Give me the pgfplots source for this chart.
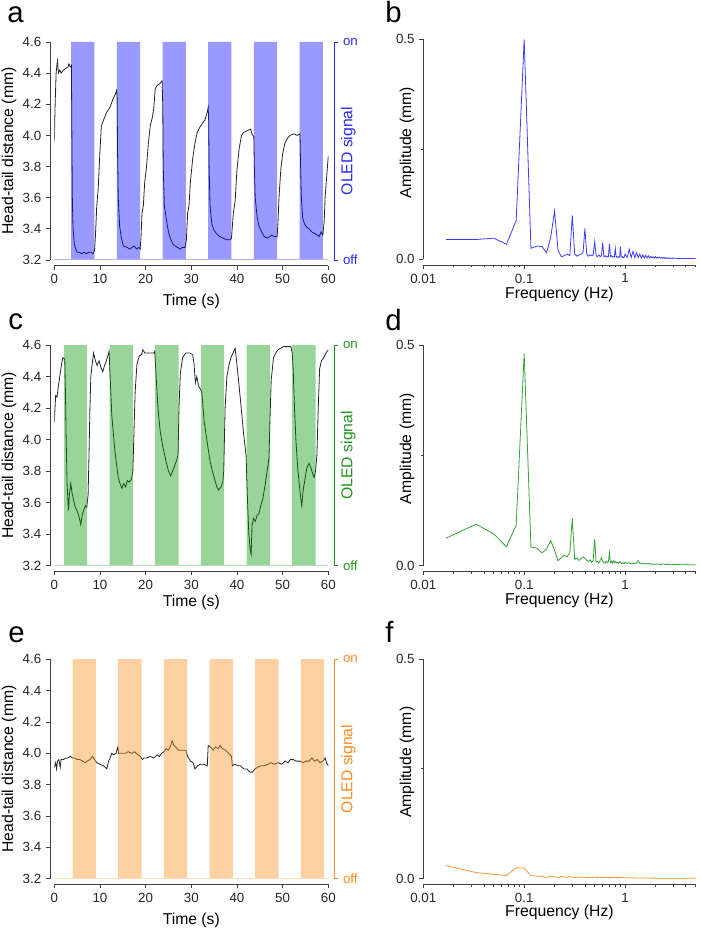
\documentclass[border=0pt]{standalone}
\usepackage{pgfplots}
\pgfplotsset{compat=1.18}
\usepackage{fontspec}
\setmainfont{Liberation Sans}

\definecolor{bandB}{RGB}{0,0,255}
\definecolor{axB}{RGB}{40,40,255}
\definecolor{lineB}{RGB}{60,60,255}
\definecolor{bandG}{RGB}{0,150,0}
\definecolor{axG}{RGB}{30,150,30}
\definecolor{lineG}{RGB}{50,165,50}
\definecolor{bandO}{RGB}{255,140,20}
\definecolor{axO}{RGB}{255,140,30}
\definecolor{lineO}{RGB}{255,150,50}

\tikzset{letter/.style={font=\fontsize{22}{25}\selectfont, anchor=base west, inner sep=0pt}}

\pgfplotsset{
 base/.style={scale only axis, /pgf/number format/assume math mode=true,
   tick align=outside, major tick length=3pt, minor tick length=1.7pt,
   ticklabel style={font=\fontsize{10}{12}\selectfont, text=black!85},
   label style={font=\fontsize{11.8}{14}\selectfont},
   axis line style={black!75, line width=0.6pt},
   every tick/.style={black!75, line width=0.6pt},
   x axis line style={yshift=-4.3pt}, xtick style={yshift=-4.3pt}, xticklabel style={yshift=-4.3pt}},
 tsax/.style={base, width=205.5pt, xmin=0, xmax=60, ymin=3.2, ymax=4.6,
   xtick={0,10,20,30,40,50,60}, ytick={3.2,3.4,3.6,3.8,4.0,4.2,4.4,4.6},
   y tick label style={/pgf/number format/fixed, /pgf/number format/fixed zerofill, /pgf/number format/precision=1},
   axis x line*=bottom, axis y line*=left,
   y axis line style={xshift=-3.3pt}, ytick style={xshift=-3.3pt}, yticklabel style={xshift=-3.3pt},
   xlabel={Time (s)}, ylabel={Head-tail distance (mm)},
   ylabel style={at={(axis description cs:-0.165,0.5)}, anchor=center}},
 oledax/.style={scale only axis, width=205.5pt, xmin=0, xmax=60, ymin=0, ymax=1,
   axis x line=none, axis y line*=right,
   ytick={0,1}, yticklabels={off,on}, tick align=outside, major tick length=3pt,
   ticklabel style={font=\fontsize{10}{12}\selectfont},
   label style={font=\fontsize{11.8}{14}\selectfont},
   ylabel={OLED signal},
   ylabel style={at={(axis description cs:1.073,0.5)}, anchor=center}},
 oledcol/.style={axis line style={#1, line width=0.6pt}, every tick/.style={#1, line width=0.6pt},
   yticklabel style={text=#1}, ylabel style={text=#1},
   y axis line style={xshift=4.5pt}, ytick style={xshift=4.5pt}, yticklabel style={xshift=4.5pt}},
 fftax/.style={base, width=204.2pt, xmin=0.01, xmax=5,
   xtick={0.01,0.1,1}, xticklabels={0.01,0.1,1},
   minor xtick={0.02,0.03,0.04,0.05,0.06,0.07,0.08,0.09,0.2,0.3,0.4,0.5,0.6,0.7,0.8,0.9,2,3,4,5},
   ymin=0, ymax=0.5, ytick={0,0.5}, yticklabels={0.0,0.5}, minor ytick={0.25},
   axis x line*=bottom, axis y line*=left,
   xlabel={Frequency (Hz)}, ylabel={Amplitude (mm)},
   ylabel style={at={(axis description cs:-0.06,0.53)}, anchor=center}}
}

\begin{document}
\begin{tikzpicture}
\path[use as bounding box] (0pt,0pt) rectangle (525pt,698.25pt);

\node[letter] at (5.25pt,681pt) {a};
\node[letter] at (288.75pt,681pt) {b};
\node[letter] at (6pt,450.75pt) {c};
\node[letter] at (288.75pt,450pt) {d};
\node[letter] at (6pt,216pt) {e};
\node[letter] at (288.75pt,216pt) {f};

% ---------------- panel a ----------------
\begin{axis}[tsax, at={(40.725pt,503.25pt)}, anchor=south west, height=163.5pt,
  xlabel style={at={(axis description cs:0.5,-0.191)}, anchor=center}]
\addplot[black!85, line width=0.6pt] coordinates {
(0,3.96) (0.2,4.22) (0.4,4.40) (0.6,4.46) (0.7,4.48) (0.9,4.40) (1.2,4.42) (1.5,4.40) (2.0,4.42) (2.5,4.43) (3.0,4.44) (3.2,4.46) (3.5,4.44) (3.75,4.45) (3.85,4.0) (3.95,3.6) (4.1,3.4) (4.4,3.30) (4.7,3.27) (5.0,3.25) (5.5,3.25) (6.0,3.24) (6.5,3.25) (7.0,3.24) (7.5,3.25) (8.0,3.25) (8.5,3.24) (8.8,3.26) (9.0,3.35) (9.3,3.55) (9.6,3.65) (10.0,3.90) (10.3,4.06) (10.8,4.10) (11.5,4.15) (12.2,4.18) (12.8,4.23) (13.3,4.26) (13.65,4.29) (13.75,4.25) (13.85,3.9) (14.0,3.6) (14.3,3.42) (14.7,3.34) (15.1,3.29) (16,3.28) (16.5,3.27) (17,3.28) (17.5,3.29) (18,3.27) (18.5,3.28) (18.8,3.27) (19.0,3.35) (19.2,3.5) (19.5,3.55) (19.8,3.7) (20.2,3.8) (20.6,3.95) (21.0,4.06) (21.5,4.12) (21.8,4.18) (22.1,4.30) (22.5,4.32) (23.0,4.33) (23.6,4.35) (23.75,4.2) (23.85,3.8) (24.1,3.55) (24.6,3.45) (25.0,3.38) (25.4,3.34) (26.0,3.30) (26.5,3.29) (27,3.28) (27.5,3.27) (28,3.28) (28.6,3.28) (28.9,3.32) (29.2,3.5) (29.5,3.55) (29.8,3.7) (30.3,3.85) (30.8,3.95) (31.3,4.02) (31.8,4.05) (32.5,4.08) (33.0,4.10) (33.4,4.14) (33.7,4.18) (33.8,4.10) (33.9,3.8) (34.1,3.55) (34.5,3.43) (35.0,3.39) (35.5,3.37) (36.2,3.35) (37,3.34) (37.8,3.33) (38.5,3.33) (38.8,3.34) (39.0,3.42) (39.2,3.5) (39.6,3.58) (40.0,3.78) (40.5,3.92) (41.0,4.00) (41.5,4.02) (42.2,4.03) (43.0,4.04) (43.3,4.01) (43.7,3.99) (43.8,3.8) (44.0,3.6) (44.4,3.48) (44.8,3.42) (45.4,3.38) (46.0,3.35) (46.6,3.34) (47.2,3.35) (47.6,3.36) (48.2,3.35) (48.8,3.35) (49.0,3.45) (49.2,3.6) (49.6,3.78) (50.0,3.88) (50.5,3.95) (51.0,3.98) (51.6,4.00) (52.5,4.01) (53.2,4.00) (53.8,4.01) (53.9,3.85) (54.1,3.6) (54.4,3.47) (54.8,3.43) (55.3,3.41) (55.8,3.40) (56.4,3.38) (57.0,3.37) (57.6,3.36) (58.0,3.35) (58.4,3.38) (58.8,3.36) (59.1,3.45) (59.3,3.6) (59.6,3.72) (60,3.87)};
\end{axis}
\begin{axis}[oledax, oledcol=axB, at={(40.725pt,503.25pt)}, anchor=south west, height=163.5pt]
\addplot[draw=none, fill=bandB, fill opacity=0.4] coordinates {
(0,0) (3.7,0) (3.7,1) (8.8,1) (8.8,0) (13.7,0) (13.7,1) (18.8,1) (18.8,0) (23.7,0) (23.7,1) (28.8,1) (28.8,0) (33.7,0) (33.7,1) (38.8,1) (38.8,0) (43.7,0) (43.7,1) (48.8,1) (48.8,0) (53.7,0) (53.7,1) (58.8,1) (58.8,0) (60,0)} \closedcycle;
\addplot[bandB!30, line width=0.8pt] coordinates {(0,0) (60,0)};
\end{axis}

% ---------------- panel b ----------------
\begin{axis}[xmode=log, fftax, at={(317.475pt,503.775pt)}, anchor=south west, height=165pt,
  xlabel style={at={(axis description cs:0.5,-0.160)}, anchor=center}]
\addplot[lineB, line width=0.6pt] coordinates {
(0.0167,.045) (0.0333,.045) (0.05,.048) (0.0667,.034) (0.0833,.088) (0.1,.500) (0.1167,.025) (0.1333,.030) (0.15,.029) (0.1667,.015) (0.1833,.050) (0.2,.110) (0.2167,.020) (0.2333,.006) (0.25,.008) (0.2667,.012) (0.2833,.008) (0.3,.100) (0.3167,.012) (0.3333,.007) (0.35,.010) (0.3667,.012) (0.3833,.015) (0.4,.070) (0.4167,.012) (0.4333,.007) (0.45,.010) (0.4667,.008) (0.4833,.010) (0.5,.040) (0.5167,.008) (0.5333,.006) (0.55,.010) (0.5667,.006) (0.5833,.008) (0.6,.038) (0.6167,.006) (0.6333,.008) (0.65,.005) (0.6667,.007) (0.6833,.006) (0.7,.035) (0.7167,.006) (0.7333,.008) (0.75,.005) (0.7667,.006) (0.7833,.005) (0.8,.025) (0.8167,.005) (0.8333,.006) (0.85,.004) (0.8667,.006) (0.8833,.005) (0.9,.029) (0.9167,.005) (0.9333,.004) (0.95,.006) (0.9667,.004) (0.9833,.005) (1.0,.012) (1.05,.004) (1.1,.023) (1.15,.004) (1.2,.018) (1.25,.004) (1.3,.015) (1.35,.004) (1.4,.012) (1.45,.003) (1.5,.010) (1.55,.003) (1.6,.009) (1.65,.003) (1.7,.008) (1.75,.003) (1.8,.007) (1.85,.003) (1.9,.006) (1.95,.003) (2.0,.006) (2.05,.003) (2.1,.005) (2.15,.003) (2.2,.005) (2.25,.003) (2.3,.004) (2.35,.002) (2.4,.004) (2.45,.002) (2.5,.004) (2.55,.002) (2.6,.003) (2.65,.002) (2.7,.003) (2.75,.002) (2.8,.003) (2.85,.002) (2.9,.003) (2.95,.002) (3.0,.003) (3.1,.0025) (3.2,.0025) (3.3,.002) (3.5,.002) (3.7,.002) (4.0,.002) (4.3,.002) (4.7,.0018) (5.0,.0018)};
\end{axis}

% ---------------- panel c ----------------
\begin{axis}[tsax, at={(40.725pt,273.975pt)}, anchor=south west, height=165.5pt,
  xlabel style={at={(axis description cs:0.5,-0.165)}, anchor=center}]
\addplot[black!85, line width=0.6pt] coordinates {
(0,4.11) (0.3,4.28) (0.6,4.27) (0.9,4.34) (1.2,4.40) (1.6,4.48) (1.9,4.52) (2.3,4.51) (2.5,4.2) (2.6,4.0) (2.8,3.72) (3.1,3.55) (3.3,3.65) (3.6,3.72) (3.9,3.66) (4.2,3.62) (4.5,3.58) (4.8,3.56) (5.1,3.54) (5.5,3.50) (5.8,3.46) (6.1,3.52) (6.4,3.55) (6.8,3.58) (7.1,3.57) (7.4,3.65) (7.6,3.9) (7.8,4.2) (8.0,4.40) (8.3,4.48) (8.6,4.55) (9.0,4.50) (9.4,4.47) (9.8,4.50) (10.2,4.46) (10.6,4.43) (11.0,4.47) (11.4,4.50) (11.8,4.54) (12.0,4.56) (12.3,4.35) (12.6,4.15) (12.9,4.05) (13.3,3.92) (13.6,3.85) (14.0,3.76) (14.4,3.72) (14.8,3.69) (15.2,3.72) (15.6,3.70) (16.0,3.74) (16.4,3.73) (16.9,3.75) (17.2,3.80) (17.4,4.0) (17.7,4.3) (18.1,4.48) (18.6,4.53) (19.1,4.54) (19.4,4.57) (19.8,4.55) (20.5,4.55) (21.2,4.55) (21.8,4.55) (22.0,4.56) (22.3,4.40) (22.7,4.20) (23.2,4.05) (23.8,3.95) (24.4,3.87) (25.0,3.80) (25.5,3.77) (25.9,3.80) (26.3,3.83) (26.8,3.87) (27.1,3.90) (27.3,4.2) (27.6,4.42) (28.1,4.52) (28.8,4.55) (29.6,4.55) (30.3,4.54) (30.6,4.48) (30.9,4.36) (31.2,4.40) (31.6,4.34) (32.0,4.32) (32.3,4.30) (32.8,4.12) (33.4,4.00) (34.0,3.88) (34.6,3.80) (35.2,3.74) (35.6,3.70) (36.0,3.68) (36.5,3.70) (36.9,3.73) (37.1,3.80) (37.4,4.20) (37.8,4.40) (38.3,4.48) (38.8,4.53) (39.3,4.56) (39.6,4.58) (39.9,4.50) (40.2,4.42) (40.6,4.30) (41.0,4.18) (41.4,4.05) (42.0,3.90) (42.3,3.62) (42.6,3.40) (42.9,3.30) (43.1,3.27) (43.3,3.45) (43.6,3.50) (44.0,3.48) (44.4,3.52) (44.8,3.53) (45.2,3.58) (45.7,3.63) (46.2,3.72) (46.6,3.80) (47.0,3.88) (47.2,4.10) (47.5,4.38) (48.0,4.52) (48.5,4.55) (49.0,4.57) (49.6,4.58) (50.2,4.59) (51.0,4.59) (51.8,4.59) (52.1,4.55) (52.3,4.45) (52.6,4.20) (52.9,4.00) (53.3,3.82) (53.7,3.70) (54.0,3.62) (54.2,3.58) (54.5,3.68) (54.9,3.75) (55.3,3.82) (55.8,3.85) (56.2,3.82) (56.6,3.78) (56.9,3.76) (57.2,3.80) (57.5,3.90) (57.8,4.20) (58.1,4.45) (58.5,4.50) (59.0,4.52) (59.5,4.55) (60,4.57)};
\end{axis}
\begin{axis}[oledax, oledcol=axG, at={(40.725pt,273.975pt)}, anchor=south west, height=165.5pt]
\addplot[draw=none, fill=bandG, fill opacity=0.4] coordinates {
(0,0) (2.1,0) (2.1,1) (7.2,1) (7.2,0) (12.1,0) (12.1,1) (17.2,1) (17.2,0) (22.1,0) (22.1,1) (27.2,1) (27.2,0) (32.1,0) (32.1,1) (37.2,1) (37.2,0) (42.1,0) (42.1,1) (47.2,1) (47.2,0) (52.1,0) (52.1,1) (57.2,1) (57.2,0) (60,0)} \closedcycle;
\addplot[bandG!30, line width=0.8pt] coordinates {(0,0) (60,0)};
\end{axis}

% ---------------- panel d ----------------
\begin{axis}[xmode=log, fftax, at={(317.475pt,273.975pt)}, anchor=south west, height=165.5pt,
  xlabel style={at={(axis description cs:0.5,-0.158)}, anchor=center}]
\addplot[lineG, line width=0.6pt] coordinates {
(0.0167,.062) (0.0333,.094) (0.05,.072) (0.0667,.043) (0.0833,.092) (0.1,.481) (0.1167,.042) (0.1333,.040) (0.15,.029) (0.1667,.038) (0.1833,.057) (0.2,.035) (0.2167,.011) (0.2333,.018) (0.25,.024) (0.2667,.020) (0.2833,.030) (0.3,.107) (0.3167,.014) (0.3333,.018) (0.35,.012) (0.3667,.016) (0.3833,.020) (0.4,.017) (0.4167,.012) (0.4333,.010) (0.45,.013) (0.4667,.008) (0.4833,.012) (0.5,.060) (0.5167,.008) (0.5333,.010) (0.55,.006) (0.5667,.012) (0.5833,.018) (0.6,.010) (0.6167,.008) (0.6333,.006) (0.65,.010) (0.6667,.007) (0.6833,.009) (0.7,.030) (0.7167,.007) (0.7333,.010) (0.75,.006) (0.7667,.011) (0.7833,.007) (0.8,.010) (0.8167,.006) (0.8333,.008) (0.85,.007) (0.8667,.005) (0.8833,.008) (0.9,.009) (0.9167,.006) (0.9333,.005) (0.95,.007) (0.9667,.006) (0.9833,.005) (1.0,.008) (1.05,.005) (1.1,.007) (1.15,.004) (1.2,.006) (1.25,.005) (1.3,.006) (1.35,.012) (1.4,.005) (1.45,.006) (1.5,.004) (1.55,.005) (1.6,.004) (1.65,.005) (1.7,.004) (1.75,.005) (1.8,.003) (1.85,.004) (1.9,.003) (1.95,.004) (2.0,.003) (2.1,.004) (2.2,.003) (2.3,.003) (2.4,.004) (2.5,.003) (2.67,.003) (2.83,.002) (3.0,.003) (3.17,.002) (3.33,.003) (3.58,.002) (3.83,.002) (4.08,.0025) (4.33,.002) (4.67,.002) (5.0,.0015)};
\end{axis}

% ---------------- panel e ----------------
\begin{axis}[tsax, at={(40.725pt,39.225pt)}, anchor=south west, height=164.6pt,
  xlabel style={at={(axis description cs:0.5,-0.188)}, anchor=center}]
\addplot[black!85, line width=0.6pt] coordinates {
(0,3.91) (0.3,3.94) (0.5,3.90) (0.7,3.95) (1.0,3.96) (1.3,3.91) (1.5,3.96) (2.0,3.96) (2.5,3.97) (3.0,3.97) (3.5,3.98) (4.0,3.97) (4.5,3.97) (5.0,3.96) (5.6,3.96) (6.2,3.95) (6.8,3.94) (7.2,3.95) (7.8,3.96) (8.4,3.98) (8.8,3.96) (9.3,3.94) (10.0,3.93) (10.8,3.92) (11.5,3.90) (11.9,3.95) (12.2,3.97) (12.6,4.00) (13.0,3.99) (13.5,4.00) (13.9,4.04) (14.1,4.00) (14.7,4.00) (15.5,4.00) (16.2,4.01) (17.0,4.00) (17.6,4.01) (18.3,3.99) (18.8,3.98) (19.3,3.96) (19.6,3.97) (20.3,3.97) (21.0,3.98) (21.8,3.97) (22.5,3.99) (23.0,3.98) (23.5,4.00) (24.0,4.01) (24.5,4.03) (25.0,4.02) (25.5,4.05) (25.8,4.08) (26.2,4.05) (26.6,4.04) (27.2,4.02) (28.0,4.02) (28.8,4.02) (29.2,3.98) (29.8,3.95) (30.4,3.94) (30.8,3.90) (31.4,3.92) (32.0,3.93) (32.8,3.93) (33.5,3.92) (33.7,4.05) (34.2,4.04) (34.8,4.02) (35.3,4.04) (35.9,4.03) (36.3,4.05) (36.8,4.03) (37.5,4.02) (38.2,4.00) (38.8,3.98) (39.0,3.92) (39.5,3.93) (40.2,3.92) (40.8,3.92) (41.5,3.90) (42.2,3.90) (42.8,3.88) (43.4,3.88) (43.9,3.90) (44.5,3.91) (45.2,3.92) (46.0,3.92) (46.8,3.93) (47.5,3.94) (48.2,3.93) (49.0,3.94) (49.8,3.93) (50.5,3.95) (51.2,3.94) (51.7,3.96) (52.3,3.96) (53.0,3.95) (53.8,3.95) (54.5,3.94) (55.2,3.95) (55.8,3.95) (56.4,3.97) (57.0,3.95) (57.6,3.96) (58.2,3.94) (58.8,3.95) (59.3,3.97) (59.6,3.94) (60,3.92)};
\end{axis}
\begin{axis}[oledax, oledcol=axO, at={(40.725pt,39.225pt)}, anchor=south west, height=164.6pt]
\addplot[draw=none, fill=bandO, fill opacity=0.4] coordinates {
(0,0) (4.0,0) (4.0,1) (9.1,1) (9.1,0) (14.0,0) (14.0,1) (19.1,1) (19.1,0) (24.0,0) (24.0,1) (29.1,1) (29.1,0) (34.0,0) (34.0,1) (39.1,1) (39.1,0) (44.0,0) (44.0,1) (49.1,1) (49.1,0) (54.0,0) (54.0,1) (59.1,1) (59.1,0) (60,0)} \closedcycle;
\addplot[bandO!30, line width=0.8pt] coordinates {(0,0) (60,0)};
\end{axis}

% ---------------- panel f ----------------
\begin{axis}[xmode=log, fftax, at={(317.475pt,39.225pt)}, anchor=south west, height=164.8pt,
  xlabel style={at={(axis description cs:0.5,-0.155)}, anchor=center}]
\addplot[lineO, line width=0.6pt] coordinates {
(0.0167,.030) (0.0333,.014) (0.05,.010) (0.0667,.007) (0.0833,.025) (0.1,.024) (0.1167,.007) (0.1333,.006) (0.15,.005) (0.1667,.003) (0.1833,.006) (0.2,.004) (0.2167,.003) (0.2333,.005) (0.25,.004) (0.2667,.003) (0.2833,.005) (0.3,.004) (0.3167,.002) (0.3333,.004) (0.35,.003) (0.3667,.004) (0.4,.002) (0.4333,.003) (0.4667,.002) (0.5,.004) (0.55,.002) (0.6,.003) (0.65,.002) (0.7,.003) (0.75,.002) (0.8,.002) (0.85,.003) (0.9,.002) (1.0,.002) (1.17,.002) (1.33,.0015) (1.67,.0015) (2.0,.0012) (2.5,.001) (3.33,.001) (4.17,.001) (5.0,.001)};
\end{axis}
\end{tikzpicture}
\end{document}
